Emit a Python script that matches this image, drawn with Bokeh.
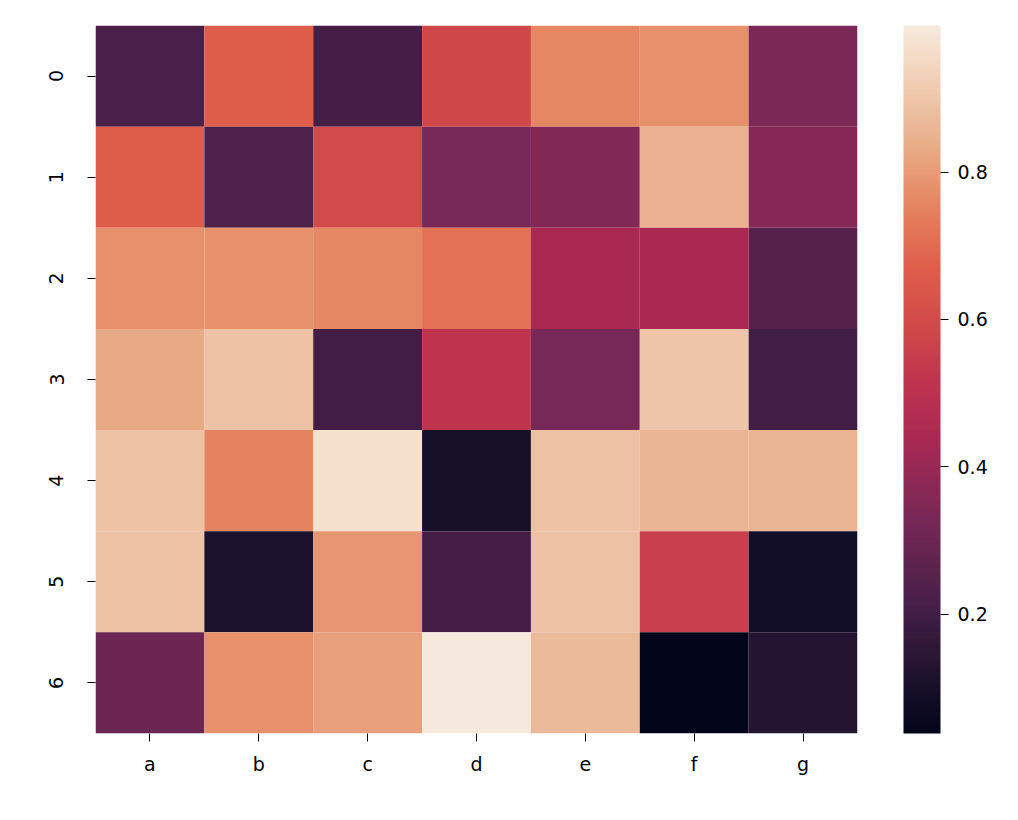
import numpy as np
from bokeh.plotting import figure
from bokeh.models import LinearColorMapper, ColorBar, FixedTicker, ColumnDataSource
from bokeh.embed import file_html
from bokeh.resources import INLINE

# ---- data ----
columns = ["a", "b", "c", "d", "e", "f", "g"]
rows = ["0", "1", "2", "3", "4", "5", "6"]
col_a = [0.22, 0.67, 0.78, 0.83, 0.89, 0.89, 0.30]
col_b = [0.67, 0.23, 0.78, 0.89, 0.75, 0.11, 0.78]
col_c = [0.21, 0.59, 0.76, 0.20, 0.97, 0.79, 0.81]
col_d = [0.58, 0.33, 0.71, 0.52, 0.10, 0.21, 0.999]
col_e = [0.76, 0.35, 0.44, 0.33, 0.89, 0.89, 0.87]
col_f = [0.78, 0.85, 0.44, 0.90, 0.86, 0.55, 0.038]
col_g = [0.34, 0.36, 0.25, 0.20, 0.86, 0.09, 0.13]
colorbar_ticks = [0.2, 0.4, 0.6, 0.8]

# ---- rocket-like palette (muted, as rendered in the reference) ----
anchor_pos = [0.0, 0.065, 0.189, 0.304, 0.418, 0.502, 0.564, 0.658,
              0.751, 0.824, 0.887, 0.970, 1.0]
anchor_rgb = np.array([
    (3, 5, 26), (24, 16, 42), (74, 32, 73), (120, 40, 86), (170, 41, 83),
    (192, 52, 78), (208, 71, 74), (222, 94, 74), (230, 134, 98),
    (232, 170, 132), (237, 193, 164), (245, 224, 205), (246, 234, 222)], float)
palette = []
for t in np.linspace(0, 1, 256):
    r, g, b = (np.interp(t, anchor_pos, anchor_rgb[:, k]) for k in range(3))
    palette.append("#%02x%02x%02x" % (int(round(r)), int(round(g)), int(round(b))))

all_cols = [col_a, col_b, col_c, col_d, col_e, col_f, col_g]
xs, ys, vs = [], [], []
for c, vals in zip(columns, all_cols):
    for r, v in zip(rows, vals):
        xs.append(c)
        ys.append(r)
        vs.append(v)
src = ColumnDataSource(dict(x=xs, y=ys, v=vs))

mapper = LinearColorMapper(palette=palette, low=min(vs), high=max(vs))

FONT = "DejaVu Sans"
FS = "19px"
TXT = "black"

p = figure(x_range=columns, y_range=list(reversed(rows)),
           frame_width=762, frame_height=708,
           min_border_left=95, min_border_top=25, min_border_bottom=87,
           min_border_right=10,
           output_backend="svg", toolbar_location=None, tools="")
p.rect(x="x", y="y", width=1, height=1, source=src,
       fill_color={"field": "v", "transform": mapper}, line_color=None)

p.outline_line_color = None
p.grid.grid_line_color = None
for ax in (p.xaxis, p.yaxis):
    ax.axis_line_color = None
    ax.major_tick_out = 8
    ax.major_tick_in = 0
    ax.minor_tick_line_color = None
    ax.major_tick_line_color = "black"
    ax.major_label_text_font = FONT
    ax.major_label_text_font_size = FS
    ax.major_label_text_color = TXT
p.xaxis.major_label_standoff = 11
p.yaxis.major_label_standoff = 24
p.yaxis.major_label_orientation = "vertical"

cb = ColorBar(color_mapper=mapper, ticker=FixedTicker(ticks=colorbar_ticks),
              width=37, height=708, location=(46, 0), margin=0, padding=0,
              major_tick_out=8, major_tick_in=0, major_tick_line_color="black",
              minor_tick_line_color=None, bar_line_color=None,
              border_line_color=None, background_fill_color=None,
              label_standoff=9,
              major_label_text_font=FONT, major_label_text_font_size=FS,
              major_label_text_color=TXT)
p.add_layout(cb, "right")

open("out.html", "w").write(file_html(p, INLINE))
